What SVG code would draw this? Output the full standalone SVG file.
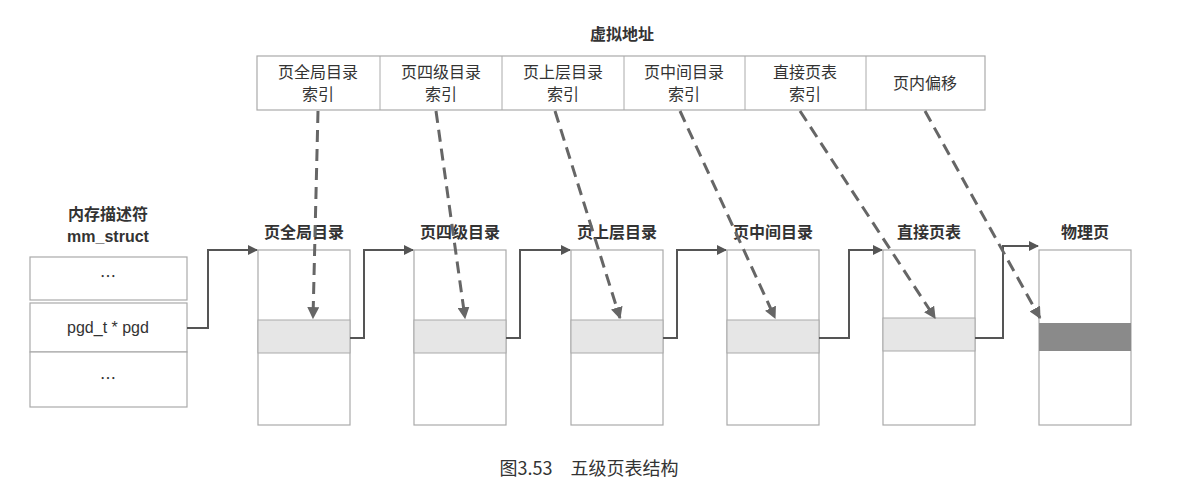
<svg xmlns="http://www.w3.org/2000/svg" width="1178" height="494" viewBox="0 0 1178 494">
<style>
text{font-family:"Noto Sans CJK SC","Liberation Sans",sans-serif;fill:#333;text-anchor:middle}
.b{font-weight:bold;font-size:16px}
.c{font-size:16px}
.box{fill:#fff;stroke:#aaa;stroke-width:1.2}
.band{fill:#e6e6e6;stroke:#aaa;stroke-width:1}
.sol{fill:none;stroke:#555;stroke-width:2}
.dash{fill:none;stroke:#666;stroke-width:3;stroke-dasharray:12 7}
</style>
<defs>
<marker id="a" viewBox="0 0 10 10" refX="9" refY="5" markerWidth="5" markerHeight="5" orient="auto"><path d="M0,0L10,5L0,10z" fill="#555"/></marker>
<marker id="d" viewBox="0 0 10 10" refX="9" refY="5" markerWidth="4" markerHeight="4" orient="auto"><path d="M0,0L10,5L0,10z" fill="#666"/></marker>
</defs>
<rect width="1178" height="494" fill="#fff"/>
<g id="vaddr">
<text x="622" y="40" class="b">虚拟地址</text>
<rect class="box" x="257" y="56" width="728" height="54"/>
<g stroke="#aaa"><line x1="380" y1="56" x2="380" y2="110"/><line x1="502" y1="56" x2="502" y2="110"/><line x1="624" y1="56" x2="624" y2="110"/><line x1="745" y1="56" x2="745" y2="110"/><line x1="866" y1="56" x2="866" y2="110"/></g>
<text class="c" x="318" y="78">页全局目录</text><text class="c" x="318" y="100">索引</text>
<text class="c" x="441" y="78">页四级目录</text><text class="c" x="441" y="100">索引</text>
<text class="c" x="563" y="78">页上层目录</text><text class="c" x="563" y="100">索引</text>
<text class="c" x="684" y="78">页中间目录</text><text class="c" x="684" y="100">索引</text>
<text class="c" x="805" y="78">直接页表</text><text class="c" x="805" y="100">索引</text>
<text class="c" x="925" y="89">页内偏移</text>
</g>
<g id="mm">
<text x="108" y="220" class="b">内存描述符</text>
<text x="108" y="242" class="b" style="font-family:'Liberation Sans',sans-serif">mm_struct</text>
<rect class="box" x="30" y="257" width="157" height="43"/>
<rect class="box" x="30" y="303" width="157" height="49"/>
<rect class="box" x="30" y="352" width="157" height="55"/>
<text x="108" y="282" class="c">…</text>
<text x="108" y="333" class="c" style="font-family:'Liberation Sans',sans-serif">pgd_t * pgd</text>
<text x="108" y="384" class="c">…</text>
</g>
<g id="t1"><text x="304" y="238" class="b">页全局目录</text><rect class="box" x="258" y="250" width="92" height="175"/><rect class="band" x="258" y="320" width="92" height="33"/></g>
<g id="t2"><text x="460" y="238" class="b">页四级目录</text><rect class="box" x="414" y="250" width="92" height="175"/><rect class="band" x="414" y="320" width="92" height="33"/></g>
<g id="t3"><text x="617" y="238" class="b">页上层目录</text><rect class="box" x="571" y="250" width="92" height="175"/><rect class="band" x="571" y="320" width="92" height="33"/></g>
<g id="t4"><text x="773" y="238" class="b">页中间目录</text><rect class="box" x="727" y="250" width="92" height="175"/><rect class="band" x="727" y="320" width="92" height="33"/></g>
<g id="t5"><text x="929" y="238" class="b">直接页表</text><rect class="box" x="883" y="250" width="92" height="175"/><rect class="band" x="883" y="318" width="92" height="33"/></g>
<g id="t6"><text x="1085" y="238" class="b">物理页</text><rect class="box" x="1039" y="250" width="92" height="175"/><rect x="1039" y="323" width="92" height="28" fill="#8a8a8a"/></g>
<g id="connectors">
<path class="sol" marker-end="url(#a)" d="M187,328H208V250H257"/>
<path class="sol" marker-end="url(#a)" d="M350,338H364V250H413"/>
<path class="sol" marker-end="url(#a)" d="M506,338H520V250H570"/>
<path class="sol" marker-end="url(#a)" d="M663,338H677V250H726"/>
<path class="sol" marker-end="url(#a)" d="M819,338H849V250H882"/>
<path class="sol" marker-end="url(#a)" d="M975,338H1003V246H1038"/>
<path class="dash" marker-end="url(#d)" d="M318,111L313,318"/>
<path class="dash" marker-end="url(#d)" d="M436,111L465,318"/>
<path class="dash" marker-end="url(#d)" d="M555,111L620,318"/>
<path class="dash" marker-end="url(#d)" d="M680,111L775,318"/>
<path class="dash" marker-end="url(#d)" d="M800,111L935,318"/>
<path class="dash" marker-end="url(#d)" d="M925,111L1040,318"/>
</g>
<text x="589" y="475" style="font-size:18px">图3.53　五级页表结构</text>
</svg>
